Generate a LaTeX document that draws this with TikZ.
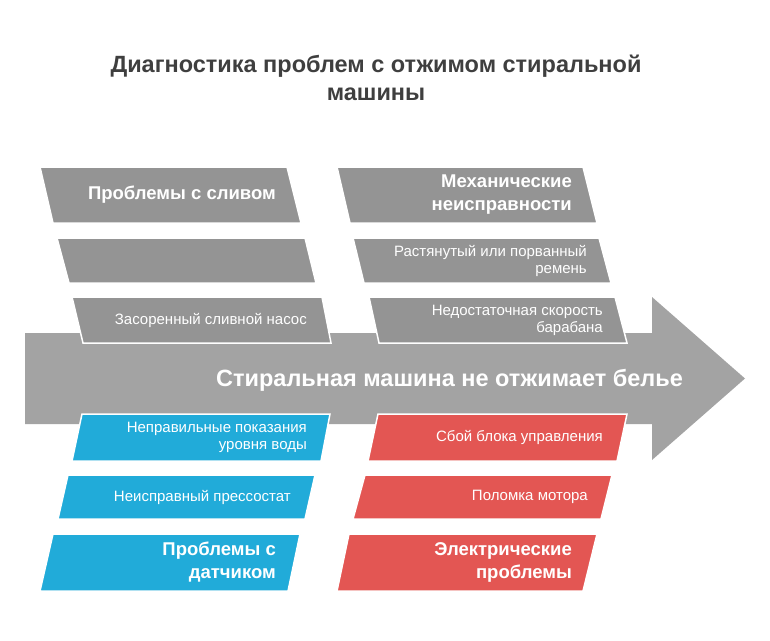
\documentclass[tikz,border=0pt]{standalone}
\usepackage{fontspec}
\setmainfont{Liberation Sans}
\definecolor{boxgray}{HTML}{949494}
\definecolor{arrowgray}{HTML}{A3A3A3}
\definecolor{sensorblue}{HTML}{21ABD9}
\definecolor{powerred}{HTML}{E35653}
\definecolor{titlegray}{HTML}{3F3F3F}
\tikzset{
  cause/.style={draw=white, line width=1.5pt, line join=miter},
  smalltext/.style={anchor=east, align=right, text=white, inner sep=0pt,
    font=\fontsize{15}{17}\selectfont},
  headtext/.style={anchor=east, align=right, text=white, inner sep=0pt,
    font=\bfseries\fontsize{18.5}{23}\selectfont},
}
\begin{document}
\begin{tikzpicture}[x=1pt, y=-1pt]
  \useasboundingbox (0,0) rectangle (770,640);

  % Title
  \node[font=\bfseries\fontsize{23.5}{28}\selectfont, text=titlegray, align=center] (title) at (376,78)
    {Диагностика проблем с отжимом стиральной\\машины};

  % Spine arrow
  \fill[arrowgray] (25,333) -- (652,333) -- (652,297) -- (745,378.5) -- (652,460) -- (652,424) -- (25,424) -- cycle;
  \node[font=\bfseries\fontsize{23.5}{26}\selectfont, text=white] (effect) at (449.5,380)
    {Стиральная машина не отжимает белье};

  % Drain problems (top left)
  \filldraw[fill=boxgray, cause] (40,167) -- (287,167) -- (301,223) -- (53,223) -- cycle;
  \node[headtext] (drain) at (276,195) {Проблемы с сливом};
  \filldraw[fill=boxgray, cause] (57,238) -- (305,238) -- (316,283) -- (69,283) -- cycle;
  \filldraw[fill=boxgray, cause] (72,297) -- (322,297) -- (331,343) -- (83,343) -- cycle;
  \node[smalltext] (pump) at (307,320) {Засоренный сливной насос};

  % Mechanical faults (top right)
  \filldraw[fill=boxgray, cause] (337,167) -- (583,167) -- (597,223) -- (350,223) -- cycle;
  \node[headtext] (mech) at (572,195) {Механические\\неисправности};
  \filldraw[fill=boxgray, cause] (353,238) -- (599,238) -- (611,283) -- (364,283) -- cycle;
  \node[smalltext] (belt) at (587,260.5) {Растянутый или порванный\\ремень};
  \filldraw[fill=boxgray, cause] (369,297) -- (615,297) -- (627,343) -- (379,343) -- cycle;
  \node[smalltext] (drum) at (603,320) {Недостаточная скорость\\барабана};

  % Sensor problems (bottom left)
  \filldraw[fill=sensorblue, cause] (82,414) -- (330,414) -- (321,461) -- (72,461) -- cycle;
  \node[smalltext] (level) at (307,437.5) {Неправильные показания\\уровня воды};
  \filldraw[fill=sensorblue, cause] (68,475) -- (315,475) -- (305,519) -- (58,519) -- cycle;
  \node[smalltext] (switch) at (291,497) {Неисправный прессостат};
  \filldraw[fill=sensorblue, cause] (53,534) -- (300,534) -- (288,591) -- (40,591) -- cycle;
  \node[headtext] (sensor) at (276,562.5) {Проблемы с\\датчиком};

  % Electrical problems (bottom right)
  \filldraw[fill=powerred, cause] (378,414) -- (627,414) -- (617,461) -- (368,461) -- cycle;
  \node[smalltext] (control) at (603,437.5) {Сбой блока управления};
  \filldraw[fill=powerred, cause] (365,475) -- (612,475) -- (601,519) -- (353,519) -- cycle;
  \node[smalltext] (motor) at (588,497) {Поломка мотора};
  \filldraw[fill=powerred, cause] (349,534) -- (597,534) -- (583,591) -- (337,591) -- cycle;
  \node[headtext] (electric) at (572,562.5) {Электрические\\проблемы};
\end{tikzpicture}
\end{document}
